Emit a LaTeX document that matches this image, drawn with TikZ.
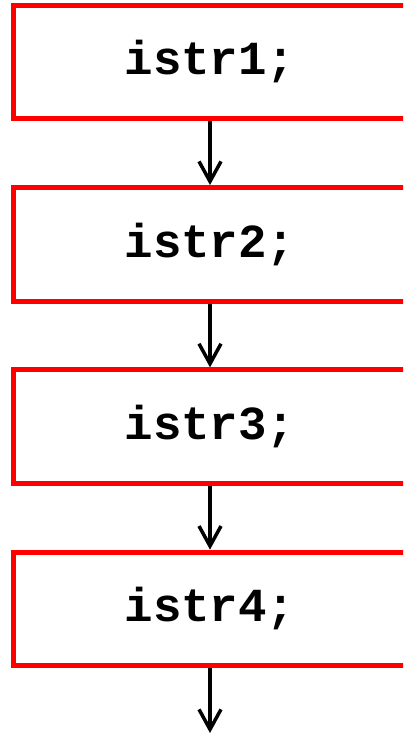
\documentclass[tikz,border=0pt]{standalone}
\usepackage{fontspec}
\setmonofont{Liberation Mono}
\usepackage{tikz}
\usetikzlibrary{arrows.meta}

\begin{document}
\begin{tikzpicture}[x=0.02cm,y=-0.02cm,
    istrbox/.style={draw=red,line width=0.1cm,minimum width=7.88cm,minimum height=2.27cm,
      inner sep=0pt,font=\ttfamily\bfseries\fontsize{27}{31}\selectfont},
    flow/.style={line width=0.07cm,-{Straight Barb[length=0.4cm,width=0.44cm,line width=0.07cm]}}]
  % Constants
  \pgfmathsetmacro\cx{210}
  \pgfmathsetmacro\top{62}
  \pgfmathsetmacro\gap{182.3}
  % Boundary
  \useasboundingbox (0,0) rectangle (403,736);
  \clip (0,0) rectangle (403,736);
  % Instructions
  \foreach \i in {1,...,4} {
    \node[istrbox] (istr\i) at (\cx,\top+\gap*\i-\gap) {istr\i;};
  }
  \coordinate (exit) at (\cx,733);
  % Flow
  \draw[flow] (istr1.south) -- (istr2.north);
  \draw[flow] (istr2.south) -- (istr3.north);
  \draw[flow] (istr3.south) -- (istr4.north);
  \draw[flow] (istr4.south) -- (exit);
\end{tikzpicture}
\end{document}
